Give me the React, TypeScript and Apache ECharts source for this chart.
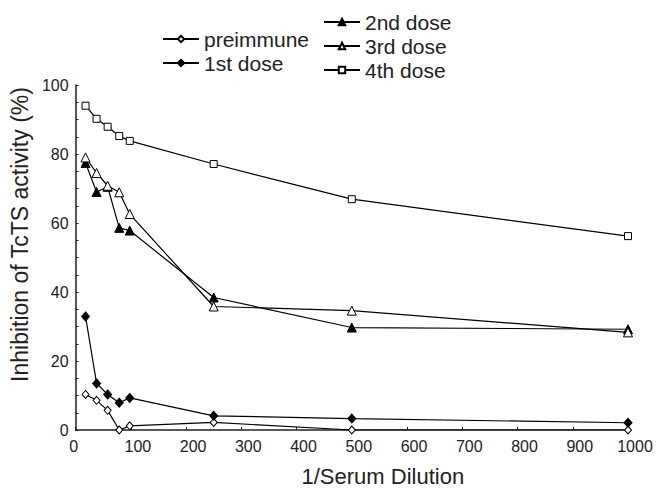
import React, { useEffect, useRef } from "react";
import * as echarts from "echarts";

const dilutions = [18, 38, 58, 79, 98, 250, 500, 1000];
const preimmune = [10.3, 8.6, 5.7, 0, 1.2, 2.2, 0, 0];
const dose1 = [32.9, 13.5, 10.3, 7.9, 9.3, 4.1, 3.3, 2.1];
const dose2 = [77.4, 69, 70.5, 58.6, 57.8, 38.4, 29.7, 29.2];
const dose3 = [79, 74.5, 70.8, 68.9, 62.6, 35.8, 34.6, 28.3];
const dose4 = [94, 90.2, 87.9, 85.2, 83.8, 77.1, 66.9, 56.2];

const xTicks = [0, 100, 200, 300, 400, 500, 600, 700, 800, 900, 1000];
const yTicks = [0, 20, 40, 60, 80, 100];

const FONT = "'Liberation Sans', Arial, Helvetica, sans-serif";

const pairs = (ys: number[]) => dilutions.map((x, i) => [x, ys[i]]);

export default function App() {
  const ref = useRef<HTMLDivElement>(null);
  useEffect(() => {
    if (!ref.current) return;
    const chart = echarts.init(ref.current, null, { renderer: "svg" });
    const open = { color: "#fff", borderColor: "#000", borderWidth: 1 };
    const filled = { color: "#000", borderColor: "#000", borderWidth: 1 };
    const mk = (name: string, ys: number[], symbol: string, size: number | number[], style: any) => ({
      name,
      type: "line",
      data: pairs(ys),
      symbol,
      symbolSize: size,
      showAllSymbol: true,
      itemStyle: style,
      lineStyle: { color: "#000", width: 1.2 },
      emphasis: { disabled: true },
      silent: true,
    });
    const legendText = { fontSize: 21, color: "#222", fontFamily: FONT, lineHeight: 24 };
    chart.setOption({
      animation: false,
      backgroundColor: "#fff",
      textStyle: { fontFamily: FONT },
      grid: { left: 72, right: 36, top: 85, bottom: 57, containLabel: false },
      legend: [
        {
          data: ["preimmune", "1st dose"],
          orient: "vertical",
          left: 162,
          top: 27,
          padding: 0,
          itemGap: 0,
          itemWidth: 36,
          itemHeight: 8,
          selectedMode: false,
          textStyle: legendText,
        },
        {
          data: ["2nd dose", "3rd dose", "4th dose"],
          orient: "vertical",
          left: 323,
          top: 10,
          padding: 0,
          itemGap: 0,
          itemWidth: 36,
          itemHeight: 8,
          selectedMode: false,
          textStyle: legendText,
        },
      ],
      xAxis: {
        type: "value",
        min: xTicks[0],
        max: xTicks[xTicks.length - 1],
        interval: 100,
        name: "1/Serum Dilution",
        nameLocation: "middle",
        nameGap: 35,
        nameTextStyle: { fontSize: 22, color: "#222", fontFamily: FONT, padding: [0, 0, 0, 62] },
        axisLine: { show: true, onZero: false, lineStyle: { color: "#222", width: 1.5 } },
        axisTick: { show: true, inside: true, length: 3, lineStyle: { color: "#222" } },
        axisLabel: {
          fontSize: 16,
          color: "#222",
          margin: 8,
          fontFamily: FONT,
          formatter: (v: number) => (v === 0 ? "{z|0}" : "{n|" + String(v) + "}"),
          rich: {
            z: { fontSize: 16, color: "#222", fontFamily: FONT, padding: [0, 4, 0, 0] },
            n: { fontSize: 16, color: "#222", fontFamily: FONT, padding: [0, 0, 0, 14] },
          },
        },
        splitLine: { show: false },
      },
      yAxis: {
        type: "value",
        min: yTicks[0],
        max: yTicks[yTicks.length - 1],
        interval: 20,
        name: "Inhibition of TcTS activity (%)",
        nameLocation: "middle",
        nameGap: 40,
        nameTextStyle: { fontSize: 23, color: "#222", fontFamily: FONT, padding: [0, 0, 0, 46] },
        axisLine: { show: true, onZero: false, lineStyle: { color: "#222", width: 1.5 } },
        axisTick: { show: true, inside: true, length: 3, lineStyle: { color: "#222" } },
        minorTick: { show: true, splitNumber: 4, length: 3, lineStyle: { color: "#222" } },
        axisLabel: { fontSize: 16, color: "#222", margin: 7, fontFamily: FONT, padding: [0, 0, 6, 0] },
        splitLine: { show: false },
      },
      series: [
        mk("preimmune", preimmune, "diamond", [7, 8], open),
        mk("1st dose", dose1, "diamond", [8, 9], filled),
        mk("2nd dose", dose2, "triangle", 9, filled),
        mk("3rd dose", dose3, "triangle", 9, open),
        mk("4th dose", dose4, "rect", 7, open),
      ],
    });
    return () => chart.dispose();
  }, []);
  return <div ref={ref} style={{ width: 664, height: 492, position: "absolute", left: 0, top: 0 }} />;
}
